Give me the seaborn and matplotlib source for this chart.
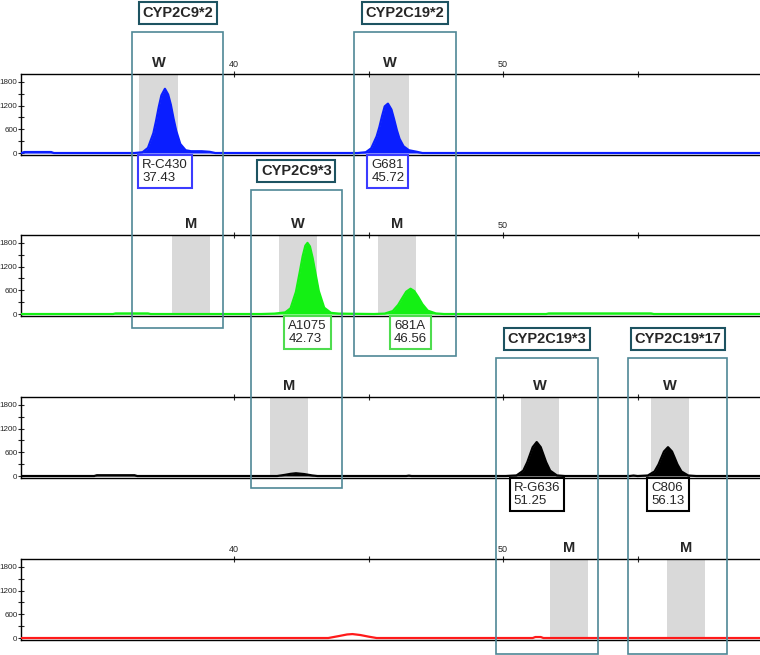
import numpy as np
import pandas as pd
import seaborn as sns
from matplotlib import pyplot as plt
from matplotlib import transforms
from matplotlib.patches import Rectangle

# === data ===
x_blue = [32.1, 32.2, 33.2, 33.3, 36.3, 36.6, 36.8, 37.0, 37.1, 37.2, 37.3, 37.43,
          37.55, 37.65, 37.75, 37.85, 38.0, 38.2, 38.4, 38.8, 39.1, 39.3,
          44.6, 44.9, 45.1, 45.3, 45.4, 45.5, 45.6, 45.72, 45.85, 45.95, 46.05,
          46.15, 46.3, 46.5, 46.8, 47.0, 59.6]
y_blue = [0, 25, 25, 0, 0, 20, 130, 500, 810, 1160, 1460, 1625,
          1480, 1220, 870, 560, 230, 70, 45, 45, 30, 0,
          0, 20, 120, 420, 650, 930, 1180, 1250, 1100, 850, 580,
          360, 170, 70, 30, 0, 0]

x_green = [32.1, 35.5, 35.6, 36.8, 36.9, 41.0, 41.5, 41.9, 42.1, 42.3, 42.45, 42.55,
           42.65, 42.73, 42.82, 42.92, 43.02, 43.15, 43.35, 43.6, 43.9,
           45.2, 45.6, 45.9, 46.1, 46.25, 46.4, 46.56, 46.7, 46.85, 47.0, 47.2,
           47.5, 47.8, 51.6, 51.7, 55.5, 55.6, 59.6]
y_green = [0, 0, 15, 15, 0, 0, 10, 40, 145, 560, 1090, 1460,
           1730, 1800, 1710, 1420, 1050, 580, 160, 30, 10,
           0, 10, 75, 230, 400, 565, 640, 580, 425, 250, 85,
           15, 0, 0, 15, 15, 0, 0]

x_black = [32.1, 34.8, 34.9, 36.3, 36.4, 41.6, 41.9, 42.1, 42.3, 42.6, 42.9, 43.1,
           46.4, 46.5, 46.6, 50.1, 50.5, 50.75, 50.9, 51.0, 51.1, 51.25, 51.4,
           51.5, 51.6, 51.75, 52.0, 52.3, 54.7, 54.85, 55.0, 55.38, 55.63, 55.78,
           55.88, 55.98, 56.13, 56.28, 56.38, 56.48, 56.63, 56.88, 57.18, 59.6]
y_black = [0, 0, 20, 20, 0, 0, 30, 55, 70, 50, 15, 0,
           0, 10, 0, 0, 15, 135, 350, 540, 730, 860, 730,
           540, 350, 135, 15, 0, 0, 12, 0, 13, 115, 295,
           460, 620, 730, 620, 460, 295, 115, 13, 0, 0]

x_red = [32.1, 43.5, 43.9, 44.2, 44.4, 44.7, 45.0, 45.3, 51.1, 51.2, 51.4, 51.5, 59.6]
y_red = [0, 0, 50, 90, 100, 75, 35, 0, 0, 25, 25, 0, 0]

traces = [(x_blue, y_blue, '#0a1eff', True),
          (x_green, y_green, '#14f014', True),
          (x_black, y_black, 'black', True),
          (x_red, y_red, '#ff1a1a', False)]

# allele bins: panel, left, right, letter
bin_panel = [0, 0, 1, 1, 1, 2, 2, 2, 3, 3]
bin_left = [36.47, 45.06, 37.70, 41.67, 45.35, 41.34, 50.67, 55.50, 51.75, 56.10]
bin_right = [37.92, 46.50, 39.10, 43.09, 46.77, 42.75, 52.08, 56.90, 53.16, 57.50]
bin_letter = ['W', 'W', 'M', 'W', 'M', 'M', 'W', 'W', 'M', 'M']

# called peaks
peak_names = ['R-C430', 'G681', 'A1075', '681A', 'R-G636', 'C806']
peak_sizes = [37.43, 45.72, 42.73, 46.56, 51.25, 56.13]
peak_panel = [0, 0, 1, 1, 2, 2]
box_colors = ['#3c3cff', '#4fdc4f', 'black']

# assay frames
assay_names = ['CYP2C9*2', 'CYP2C19*2', 'CYP2C9*3', 'CYP2C19*3', 'CYP2C19*17']
assay_left = [36.21, 44.46, 40.63, 49.74, 54.65]
assay_right = [39.59, 48.25, 44.01, 53.53, 58.33]
assay_top_px = [32, 32, 190, 358, 358]
assay_bottom_px = [328, 356, 488, 654, 654]

x_ticks = [40, 45, 50, 55]
x_tick_labels = [['40', '', '50', ''], ['', '', '50', ''], ['', '', '', ''], ['40', '', '50', '']]
y_ticks = [0, 600, 1200, 1800]
y_minor = [300, 900, 1500]

# === layout ===
W, H = 760, 655
baseline_px = [153, 314, 476, 638]
ymin, ymax = -40, 2000

sns.set_style('white')
plt.rcParams['font.family'] = ['Liberation Sans', 'DejaVu Sans']

fig = plt.figure(figsize=(W / 100, H / 100), dpi=100)
axes = []
for i, base in enumerate(baseline_px):
    top = base - 79
    bottom = base + 1.6
    ax = fig.add_axes([21 / W, 1 - bottom / H, 1 - 21 / W, (bottom - top) / H])
    ax.set_facecolor('none')
    x, y, c, filled = traces[i]
    sns.lineplot(x=x, y=y, ax=ax, color=c, lw=1.6, estimator=None, sort=False, zorder=3)
    if filled:
        ax.fill_between(x, 0, y, color=c, lw=0, zorder=3)
    ax.set_xlim(32.08, 59.55)
    ax.set_ylim(ymin, ymax)
    ax.set_xlabel('')
    ax.set_ylabel('')
    ax.spines['right'].set_visible(False)
    for s in ['left', 'top', 'bottom']:
        ax.spines[s].set_color('black')
        ax.spines[s].set_linewidth(1.0)
    ax.xaxis.tick_top()
    ax.set_xticks(x_ticks)
    ax.set_xticklabels(x_tick_labels[i])
    ax.tick_params(axis='x', direction='inout', length=5, width=0.8, labelsize=6.5, pad=1)
    ax.set_yticks(y_ticks)
    ax.set_yticks(y_minor, minor=True)
    ax.set_yticklabels([str(v) for v in y_ticks])
    ax.tick_params(axis='y', which='both', left=True, direction='inout', length=4,
                   width=0.8, labelsize=5.8, pad=0.5)
    axes.append(ax)

for p, x0, x1, letter in zip(bin_panel, bin_left, bin_right, bin_letter):
    ax = axes[p]
    ax.axvspan(x0, x1, ymin=0.02, color='#d9d9d9', lw=0, zorder=1)
    ax.annotate(letter, xy=((x0 + x1) / 2, 1), xycoords=('data', 'axes fraction'),
                xytext=(0, 3), textcoords='offset points', ha='center', va='bottom',
                fontsize=10.5, fontweight='bold')

for name, size, p in zip(peak_names, peak_sizes, peak_panel):
    axes[p].text(size, -150, f'{name}\n{size:.2f}', ha='center', va='top', fontsize=9.5,
                 multialignment='left', linespacing=1.1, zorder=6,
                 bbox=dict(boxstyle='square,pad=0.3', fc='white', ec=box_colors[p], lw=1.5))

blend = transforms.blended_transform_factory(axes[0].transData, fig.transFigure)
for name, x0, x1, t, b in zip(assay_names, assay_left, assay_right, assay_top_px, assay_bottom_px):
    fig.add_artist(Rectangle((x0, 1 - b / H), x1 - x0, (b - t) / H, transform=blend,
                             fill=False, ec='#4f8796', lw=1.2, zorder=5))
    fig.text((x0 + x1) / 2, 1 - (t - 19) / H, name, transform=blend, ha='center',
             va='center', fontsize=10.5, fontweight='bold', zorder=6,
             bbox=dict(boxstyle='square,pad=0.25', fc='white', ec='#1d5361', lw=1.5))

fig.savefig('out.png', dpi=100)
